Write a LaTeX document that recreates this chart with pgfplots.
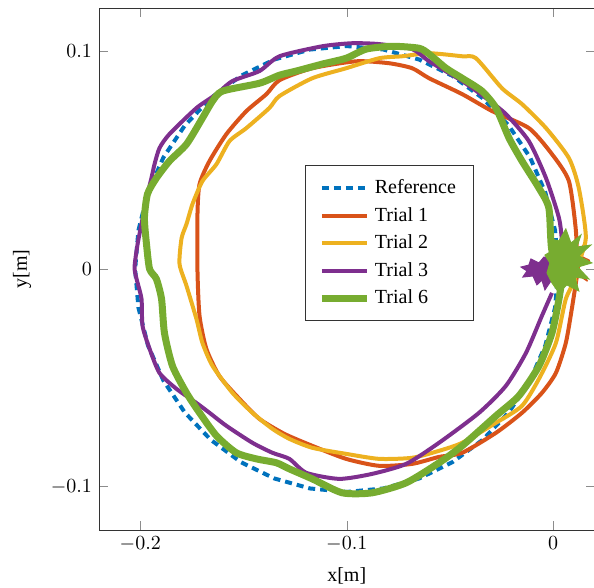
\documentclass[border=0pt]{standalone}
\usepackage{fontspec}
\setmainfont{Liberation Serif}
\usepackage{pgfplots}
\pgfplotsset{compat=1.18}

\definecolor{mycolor1}{rgb}{0.00000,0.44700,0.74100}
\definecolor{mycolor2}{rgb}{0.85000,0.32500,0.09800}
\definecolor{mycolor3}{rgb}{0.92900,0.69400,0.12500}
\definecolor{mycolor4}{rgb}{0.49400,0.18400,0.55600}
\definecolor{mycolor5}{rgb}{0.46600,0.67400,0.18800}

\begin{document}
\begin{tikzpicture}

\begin{axis}[
width=247.75pt,
height=261pt,
scale only axis,
xmin=-0.22, xmax=0.02,
ymin=-0.12, ymax=0.12,
xtick={-0.2,-0.1,0},
ytick={-0.1,0,0.1},
xticklabels={$-0.2$,$-0.1$,$0$},
yticklabels={$-0.1$,$0$,$0.1$},
tick style={color=black!45},
axis line style={black!80},
xlabel={x[m]},
ylabel={y[m]},
xlabel style={yshift=-1pt},
ylabel style={yshift=3pt},
legend style={at={(0.4157,0.699)}, anchor=north west, legend cell align=left,
  align=left, draw=black!80, font=\normalsize, row sep=1.3pt,
  inner xsep=6.5pt, inner ysep=5pt},
legend image code/.code={\draw[#1] (0cm,0cm) -- (0.8cm,0cm);},
]
% reference circle
\addplot [color=mycolor1, dash pattern=on 3.5pt off 2.5pt, line width=2pt]
coordinates {
(0.0025,0) (0.0009,0.0178) (-0.0038,0.0351) (-0.0112,0.0513) (-0.0215,0.0659)
(-0.0341,0.0785) (-0.0488,0.0888) (-0.0649,0.0963) (-0.0822,0.1009) (-0.1000,0.1025)
(-0.1178,0.1009) (-0.1351,0.0963) (-0.1513,0.0888) (-0.1659,0.0785) (-0.1785,0.0659)
(-0.1888,0.0513) (-0.1963,0.0351) (-0.2009,0.0178) (-0.2025,0)
(-0.2009,-0.0178) (-0.1963,-0.0351) (-0.1888,-0.0513) (-0.1785,-0.0659) (-0.1659,-0.0785)
(-0.1513,-0.0888) (-0.1351,-0.0963) (-0.1178,-0.1009) (-0.1000,-0.1025) (-0.0822,-0.1009)
(-0.0649,-0.0963) (-0.0488,-0.0888) (-0.0341,-0.0785) (-0.0215,-0.0659) (-0.0112,-0.0513)
(-0.0038,-0.0351) (0.0009,-0.0178) (0.0025,0)
};
\addlegendentry{Reference}

% trial 1
\addplot [color=mycolor2, line width=2pt, smooth, tension=0.4]
coordinates {
(0.0115,0) (0.0110,0.0175) (0.0076,0.0404) (-0.0006,0.0528) (-0.0118,0.0648)
(-0.0296,0.0726) (-0.0441,0.0804) (-0.0601,0.0877) (-0.0683,0.0923) (-0.0795,0.0946)
(-0.0954,0.0955) (-0.1167,0.0923) (-0.1326,0.0868) (-0.1389,0.0804) (-0.1486,0.0726)
(-0.1583,0.0620) (-0.1665,0.0496) (-0.1713,0.0390) (-0.1723,0.0253) (-0.1723,-0.0009)
(-0.1713,-0.0216) (-0.1680,-0.0367) (-0.1617,-0.0492) (-0.1520,-0.0597) (-0.1423,-0.0689)
(-0.1302,-0.0758) (-0.1167,-0.0813) (-0.1003,-0.0873) (-0.0843,-0.0905) (-0.0683,-0.0896)
(-0.0553,-0.0864) (-0.0441,-0.0845) (-0.0277,-0.0753) (-0.0151,-0.0661) (-0.0055,-0.0570)
(0.0013,-0.0478) (0.0061,-0.0340) (0.0090,-0.0184) (0.0115,-0.0032)
};
\addlegendentry{Trial 1}
\addplot [color=mycolor2, line width=0.7pt, line join=round, forget plot]
coordinates {
(0.0115,-0.0032) (0.0160,0.0125) (0.0110,0.0070) (0.0175,0.0040) (0.0112,0.0010)
(0.0165,-0.0055) (0.0110,-0.0020)
};

% trial 2
\addplot [color=mycolor3, line width=2pt, smooth, tension=0.4]
coordinates {
(0.0110,0) (0.0158,0.0142) (0.0124,0.0372) (0.0076,0.0510) (-0.0035,0.0648)
(-0.0151,0.0758) (-0.0248,0.0831) (-0.0374,0.0969) (-0.0441,0.0978) (-0.0601,0.0992)
(-0.0732,0.0978) (-0.0843,0.0969) (-0.1003,0.0923) (-0.1167,0.0877) (-0.1326,0.0795)
(-0.1375,0.0740) (-0.1486,0.0648) (-0.1568,0.0588) (-0.1631,0.0482) (-0.1699,0.0404)
(-0.1747,0.0299) (-0.1776,0.0207) (-0.1800,0.0142) (-0.1810,0.0023) (-0.1776,-0.0078)
(-0.1728,-0.0230) (-0.1699,-0.0340) (-0.1650,-0.0446) (-0.1553,-0.0570) (-0.1457,-0.0661)
(-0.1360,-0.0735) (-0.1278,-0.0781) (-0.1167,-0.0822) (-0.1003,-0.0850) (-0.0843,-0.0873)
(-0.0683,-0.0868) (-0.0553,-0.0836) (-0.0441,-0.0799) (-0.0277,-0.0707) (-0.0151,-0.0629)
(-0.0069,-0.0505) (0.0013,-0.0340) (0.0061,-0.0138) (0.0110,-0.0046)
};
\addlegendentry{Trial 2}
\addplot [color=mycolor3, line width=0.7pt, line join=round, forget plot]
coordinates {
(0.0110,-0.0046) (0.0139,0.0083) (0.0086,0.0028) (0.0124,-0.0018) (0.0080,0.0010)
};

% trial 3
\addplot [color=mycolor4, line width=2pt, smooth, tension=0.4]
coordinates {
(0.0028,0) (0.0042,0.0115) (0.0028,0.0234) (-0.0035,0.0418) (-0.0118,0.0588)
(-0.0229,0.0712) (-0.0325,0.0785) (-0.0441,0.0864) (-0.0601,0.0955) (-0.0683,0.1011)
(-0.0843,0.1034) (-0.0974,0.1038) (-0.1119,0.1024) (-0.1326,0.0978) (-0.1423,0.0910)
(-0.1554,0.0864) (-0.1631,0.0804) (-0.1728,0.0740) (-0.1859,0.0620) (-0.1907,0.0556)
(-0.1931,0.0482) (-0.1946,0.0418) (-0.1970,0.0326) (-0.1994,0.0207) (-0.2013,0.0115)
(-0.2028,0.0005) (-0.2013,-0.0064) (-0.1994,-0.0138) (-0.1989,-0.0262) (-0.1955,-0.0367)
(-0.1907,-0.0478) (-0.1825,-0.0551) (-0.1728,-0.0616) (-0.1665,-0.0661) (-0.1583,-0.0721)
(-0.1457,-0.0799) (-0.1360,-0.0845) (-0.1278,-0.0873) (-0.1196,-0.0937) (-0.1036,-0.0965)
(-0.0877,-0.0942) (-0.0712,-0.0896) (-0.0553,-0.0799) (-0.0359,-0.0661) (-0.0229,-0.0537)
(-0.0132,-0.0386) (-0.0055,-0.0216) (-0.0006,-0.0110)
};
\addlegendentry{Trial 3}
\addplot [fill=mycolor4, draw=mycolor4, line width=0.5pt, forget plot]
coordinates {
(0.0003,0.0046) (-0.0045,0.0055) (-0.0069,0.0028) (-0.0108,0.0046) (-0.0118,0.0018)
(-0.0156,0.0009) (-0.0127,-0.0009) (-0.0147,-0.0037) (-0.0098,-0.0032) (-0.0079,-0.0073)
(-0.0055,-0.0051) (-0.0040,-0.0096) (-0.0011,-0.0055) (0.0008,-0.0032) (0.0003,0.0046)
};

% trial 6
\addplot [color=mycolor5, line width=3.5pt, smooth, tension=0.4]
coordinates {
(0.0052,0) (-0.0006,0.0083) (-0.0021,0.0280) (-0.0069,0.0372) (-0.0151,0.0496)
(-0.0214,0.0602) (-0.0277,0.0740) (-0.0345,0.0818) (-0.0441,0.0877) (-0.0519,0.0923)
(-0.0601,0.0988) (-0.0650,0.1015) (-0.0780,0.1024) (-0.0906,0.1011) (-0.1003,0.0969)
(-0.1119,0.0942) (-0.1245,0.0910) (-0.1326,0.0891) (-0.1423,0.0854) (-0.1602,0.0818)
(-0.1650,0.0772) (-0.1699,0.0694) (-0.1776,0.0574) (-0.1859,0.0496) (-0.1922,0.0418)
(-0.1965,0.0345) (-0.1980,0.0234) (-0.1970,0.0115) (-0.1955,0) (-0.1922,-0.0046)
(-0.1897,-0.0138) (-0.1883,-0.0294) (-0.1844,-0.0446) (-0.1776,-0.0570) (-0.1713,-0.0661)
(-0.1631,-0.0767) (-0.1535,-0.0845) (-0.1438,-0.0873) (-0.1341,-0.0891) (-0.1278,-0.0919)
(-0.1167,-0.0965) (-0.1022,-0.1029) (-0.0877,-0.1029) (-0.0712,-0.0983) (-0.0553,-0.0891)
(-0.0441,-0.0813) (-0.0277,-0.0675) (-0.0166,-0.0583) (-0.0069,-0.0446) (-0.0006,-0.0294)
(0.0028,-0.0138) (0.0042,-0.0046)
};
\addlegendentry{Trial 6}
\addplot [fill=mycolor5, draw=mycolor5, line width=0.5pt, forget plot]
coordinates {
(0.0028,0.0129) (0.0061,0.0184) (0.0086,0.0119) (0.0134,0.0156) (0.0115,0.0101)
(0.0182,0.0110) (0.0124,0.0060) (0.0187,0.0028) (0.0119,0.0009) (0.0173,-0.0046)
(0.0105,-0.0037) (0.0124,-0.0101) (0.0066,-0.0073) (0.0028,-0.0110) (-0.0006,-0.0064)
(-0.0030,-0.0018) (-0.0016,0.0028) (-0.0040,0.0064) (-0.0006,0.0083) (-0.0011,0.0138)
(0.0028,0.0129)
};
\end{axis}

\pgfresetboundingbox
\path (-49.5pt,-29pt) rectangle (247.5pt,265pt);
\end{tikzpicture}
\end{document}
